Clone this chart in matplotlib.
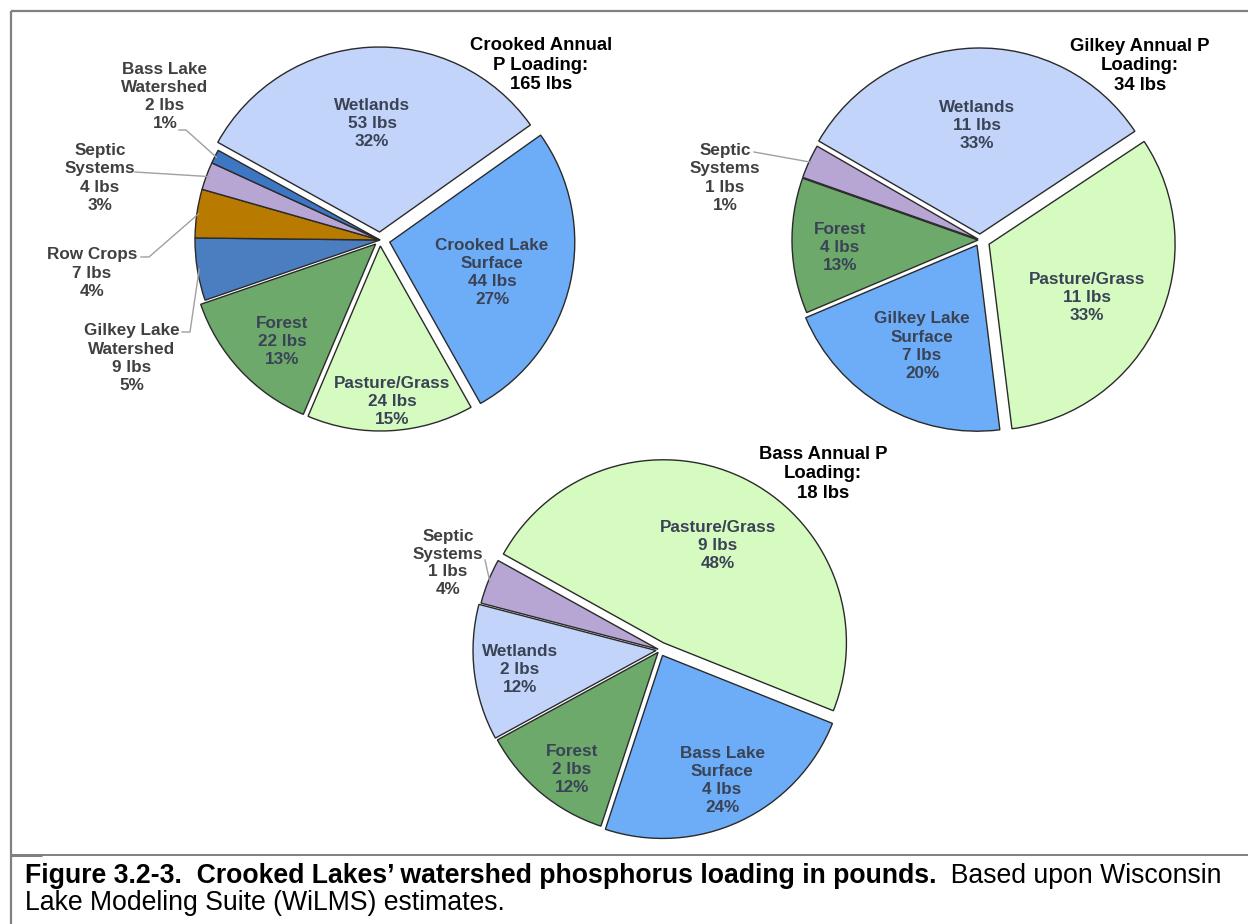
import numpy as np
import matplotlib
matplotlib.use("Agg")
import matplotlib.pyplot as plt

plt.rcParams['font.family'] = ['Liberation Sans', 'DejaVu Sans']

W, H = 1248, 924

# ---------------- data ----------------
crooked_cats = ["Wetlands", "Crooked Lake\nSurface", "Pasture/Grass", "Forest",
                "Gilkey Lake\nWatershed", "Row Crops", "Septic\nSystems", "Bass Lake\nWatershed"]
crooked_lbs = [53, 44, 24, 22, 9, 7, 4, 2]
crooked_pct = [32, 27, 15, 13, 5, 4, 3, 1]
crooked_total = 165

gilkey_cats = ["Wetlands", "Pasture/Grass", "Gilkey Lake\nSurface", "Forest", "Septic\nSystems"]
gilkey_lbs = [11, 11, 7, 4, 1]
gilkey_pct = [33, 33, 20, 13, 1]
gilkey_total = 34

bass_cats = ["Pasture/Grass", "Bass Lake\nSurface", "Forest", "Wetlands", "Septic\nSystems"]
bass_lbs = [9, 4, 2, 2, 1]
bass_pct = [48, 24, 12, 12, 4]
bass_total = 18

COL = {
    "Wetlands": "#C2D4F9",
    "Surface": "#6DADF8",
    "Pasture/Grass": "#D6FBC1",
    "Forest": "#6DA96B",
    "Gilkey Lake\nWatershed": "#4A7EC1",
    "Row Crops": "#B97A00",
    "Septic\nSystems": "#B7A5D4",
    "Bass Lake\nWatershed": "#3D77C4",
}

def col(c):
    if "Surface" in c:
        return COL["Surface"]
    return COL[c]

fig = plt.figure(figsize=(W / 100, H / 100), dpi=100)
ax = fig.add_axes([0, 0, 1, 1])

def Y(y):
    return H - y

IN_COLOR = "#3A4356"
OUT_COLOR = "#404040"
LEAD = "#A0A0A0"
FS = 12.3
LS = 1.25
TFS = 13.3

def draw_pie(cats, sizes, center, radius, start, explode_px):
    wedges, _ = ax.pie(sizes, colors=[col(c) for c in cats], startangle=start,
                       counterclock=False, center=(center[0], Y(center[1])),
                       radius=radius, explode=explode_px,
                       wedgeprops=dict(edgecolor="#2A2A2A", linewidth=1.0),
                       frame=True)
    return wedges

def label_text(c, l, p):
    return f"{c}\n{l} lbs\n{p}%"

def edge_point(w, frac=1.0):
    th = np.deg2rad((w.theta1 + w.theta2) / 2)
    return (w.center[0] + w.r * frac * np.cos(th), w.center[1] + w.r * frac * np.sin(th))

def put(x, y, s, color, size=FS, ls=LS):
    ax.text(x, Y(y), s, ha='center', va='center', fontsize=size, fontweight='bold',
            color=color, linespacing=ls)

# ---------------- Crooked ----------------
cw = draw_pie(crooked_cats, crooked_lbs, (380, 240), 185, 151,
              [8, 10, 6, 6, 0, 0, 0, 0])
crooked_inside = {0: (372, 123), 1: (492, 273), 2: (392, 401), 3: (282, 341)}
for i, (x, y) in crooked_inside.items():
    put(x, y, label_text(crooked_cats[i], crooked_lbs[i], crooked_pct[i]), IN_COLOR)
# outside labels: (text center), (leader start), (leader elbow)
crooked_outside = {7: ((165, 96), (179, 130), (186, 130)),
                   6: ((100, 178), (135, 172), None),
                   5: ((92, 273), (141, 257), (149, 257)),
                   4: ((132, 358), (182, 332), (190, 332))}
for i, ((x, y), st, el) in crooked_outside.items():
    put(x, y, label_text(crooked_cats[i], crooked_lbs[i], crooked_pct[i]), OUT_COLOR)
    ex, ey = edge_point(cw[i], 0.99)
    xs, ys = [st[0]], [Y(st[1])]
    if el is not None:
        xs.append(el[0]); ys.append(Y(el[1]))
    xs.append(ex); ys.append(ey)
    ax.plot(xs, ys, color=LEAD, lw=1.0)
put(541, 65, f"Crooked Annual\nP Loading:\n{crooked_total} lbs", 'black', TFS, 1.17)

# ---------------- Gilkey ----------------
gw = draw_pie(gilkey_cats, gilkey_lbs, (980, 240), 186, 150,
              [6, 10, 6, 2, 2])
gilkey_inside = {0: (977, 126), 1: (1087, 297), 2: (922, 346), 3: (840, 247)}
for i, (x, y) in gilkey_inside.items():
    put(x, y, label_text(gilkey_cats[i], gilkey_lbs[i], gilkey_pct[i]), IN_COLOR)
put(725, 178, label_text(gilkey_cats[4], gilkey_lbs[4], gilkey_pct[4]), OUT_COLOR)
ex, ey = edge_point(gw[4], 0.99)
ax.plot([754, ex], [Y(152), ey], color=LEAD, lw=1.0)
put(1140, 66, f"Gilkey Annual P\nLoading:\n{gilkey_total} lbs", 'black', TFS, 1.17)

# ---------------- Bass ----------------
bw = draw_pie(bass_cats, bass_pct, (660, 650), 183, 151,
              [8, 6, 3, 4, 2])
bass_inside = {0: (718, 545), 1: (722, 781), 2: (572, 770), 3: (520, 669)}
for i, (x, y) in bass_inside.items():
    put(x, y, label_text(bass_cats[i], bass_lbs[i], bass_pct[i]), IN_COLOR)
put(448, 563, label_text(bass_cats[4], bass_lbs[4], bass_pct[4]), OUT_COLOR)
ex, ey = edge_point(bw[4], 0.99)
ax.plot([485, ex], [Y(560), ey], color=LEAD, lw=1.0)
put(823, 474, f"Bass Annual P\nLoading:\n{bass_total} lbs", 'black', TFS, 1.17)

ax.set_xlim(0, W)
ax.set_ylim(0, H)
ax.set_aspect('auto')
ax.axis('off')

# ---------------- frame & caption ----------------
FR = "#808080"
ax.plot([11, W], [Y(11), Y(11)], color=FR, lw=1.6, solid_capstyle='butt')
ax.plot([11, 11], [Y(11), 0], color=FR, lw=1.6, solid_capstyle='butt')
ax.plot([11, W], [Y(855), Y(855)], color=FR, lw=1.4, solid_capstyle='butt')
ax.plot([11, 42], [Y(854.5), Y(854.5)], color=FR, lw=2.2, solid_capstyle='butt')

CFS = 19.2
t1 = ax.text(25, Y(876), "Figure 3.2-3.  Crooked Lakes\u2019 watershed phosphorus loading in pounds.",
             ha='left', va='center', fontsize=CFS, fontweight='bold', color='black')
ax.annotate("  Based upon Wisconsin", xy=(1, 0.5), xycoords=t1, ha='left', va='center',
            fontsize=CFS, color='black')
ax.text(25, Y(903), "Lake Modeling Suite (WiLMS) estimates.", ha='left', va='center',
        fontsize=CFS, color='black')

fig.savefig("out.png", dpi=100)
